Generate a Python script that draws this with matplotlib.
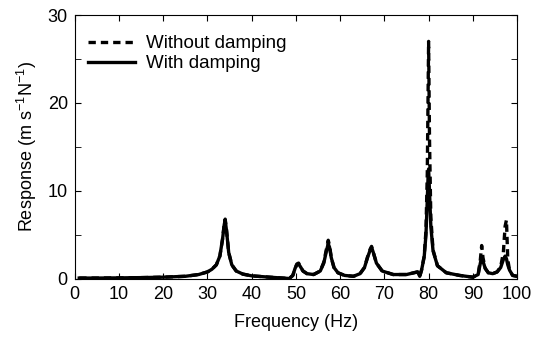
import matplotlib.pyplot as plt
from matplotlib.ticker import MultipleLocator

plt.rcParams['font.family'] = ['Liberation Sans', 'DejaVu Sans']
plt.rcParams['mathtext.default'] = 'regular'

# frequency points (Hz)
freq = [1, 5, 10, 15, 20, 25, 28, 30, 31, 32, 32.8, 33.4, 33.8, 34.0, 34.3, 34.8,
        35.5, 36.5, 38, 40, 44, 47, 48.5, 49.3, 49.8, 50.2, 50.6, 51, 51.6, 52.5,
        54, 55.5, 56.3, 56.9, 57.3, 57.6, 58, 58.6, 59.5, 61, 63, 64.5, 65.5, 66.3,
        66.8, 67.1, 67.5, 68.2, 69.5, 72, 75, 77.5, 78.0, 78.4, 79.0, 79.4, 79.7,
        79.9, 80.0, 80.2, 80.5, 81, 82, 84, 87, 90, 91.2, 91.7, 92.0, 92.3, 92.8,
        93.5, 94.5, 95.5, 96.3, 96.9, 97.3, 97.6, 97.9, 98.3, 99, 100]

# response with damping
with_damping = [0.1, 0.1, 0.12, 0.15, 0.2, 0.3, 0.5, 0.8, 1.1, 1.6, 2.6, 4.5, 6.2, 6.7,
                5.5, 3.0, 1.6, 0.9, 0.55, 0.35, 0.2, 0.1, 0.05, 0.4, 1.2, 1.6, 1.7, 1.4,
                0.9, 0.6, 0.5, 0.9, 1.8, 3.2, 4.0, 3.6, 2.4, 1.3, 0.7, 0.4, 0.3, 0.6,
                1.3, 2.6, 3.3, 3.6, 3.0, 1.8, 0.9, 0.5, 0.5, 0.8, 0.3, 1.0, 2.5, 5.0,
                9.0, 12.0, 12.5, 10.0, 6.0, 3.2, 1.5, 0.7, 0.4, 0.2, 0.5, 1.8, 2.5, 2.0,
                1.2, 0.7, 0.6, 0.8, 1.3, 2.2, 2.6, 2.3, 1.6, 1.0, 0.4, 0.3]

# response without damping
without_damping = [0.1, 0.1, 0.12, 0.15, 0.2, 0.3, 0.5, 0.8, 1.1, 1.6, 2.6, 4.5, 6.3, 6.8,
                   5.6, 3.0, 1.6, 0.9, 0.55, 0.35, 0.2, 0.1, 0.05, 0.4, 1.2, 1.7, 1.8, 1.4,
                   0.9, 0.6, 0.5, 0.9, 1.9, 3.4, 4.4, 3.8, 2.4, 1.3, 0.7, 0.4, 0.3, 0.6,
                   1.3, 2.7, 3.4, 3.7, 3.0, 1.8, 0.9, 0.5, 0.5, 0.8, 0.3, 1.0, 2.6, 5.5,
                   12.0, 22.0, 27.0, 16.0, 7.0, 3.3, 1.5, 0.7, 0.4, 0.2, 0.5, 2.2, 3.8, 2.4,
                   1.2, 0.7, 0.6, 0.8, 1.4, 3.0, 6.0, 6.7, 2.2, 1.0, 0.4, 0.3]

fig = plt.figure(figsize=(5.46, 3.41), dpi=100)
ax = fig.add_axes([0.137, 0.182, 0.81, 0.774])

ax.plot(freq, without_damping, color='black', lw=2.4, ls=(0, (2.2, 1.5)),
        label='Without damping')
ax.plot(freq, with_damping, color='black', lw=2.4, label='With damping')

ax.set_xlim(0, 100)
ax.set_ylim(0, 30)
ax.xaxis.set_major_locator(MultipleLocator(10))
ax.yaxis.set_major_locator(MultipleLocator(10))
ax.yaxis.set_minor_locator(MultipleLocator(5))
ax.tick_params(which='both', direction='in', top=True, right=True, labelsize=13,
               length=4, pad=5)
ax.set_xlabel('Frequency (Hz)', fontsize=13, labelpad=8)
ax.set_ylabel('Response (m s$^{-1}$N$^{-1}$)', fontsize=13, labelpad=6)

ax.legend(loc='upper left', bbox_to_anchor=(0.0, 0.973), frameon=False,
          fontsize=13.5, handlelength=2.5, borderaxespad=0.3,
          labelspacing=0.15, handletextpad=0.6)

fig.savefig('out.png', dpi=100)
